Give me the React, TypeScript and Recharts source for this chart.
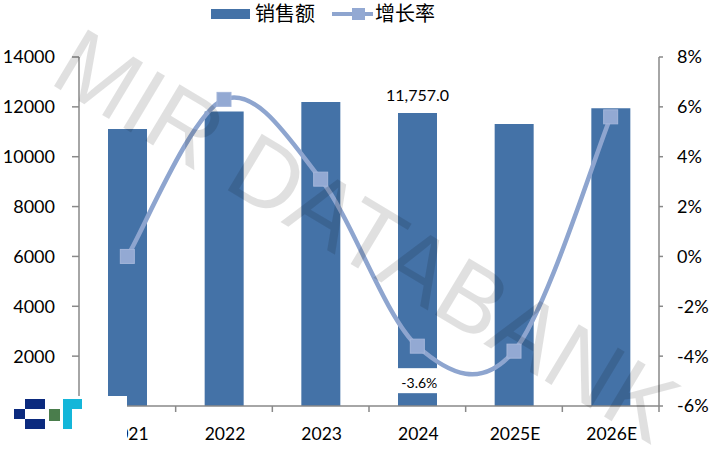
import React from 'react';
import { ComposedChart, Bar, Line, XAxis, YAxis } from 'recharts';

const categories = ['2021', '2022', '2023', '2024', '2025E', '2026E'];
const salesValues = [11110, 11810, 12190, 11757, 11310, 11943];
const growthValues = [0.0, 6.3, 3.1, -3.6, -3.8, 5.6];
const leftTicks = [0, 2000, 4000, 6000, 8000, 10000, 12000, 14000];
const rightTicks = [-6, -4, -2, 0, 2, 4, 6, 8];
const seriesNames = ['销售额', '增长率'];
const watermarkText = 'MIR DATABANK';

const W = 710;
const H = 451;
const BAR = '#4472A7';
const LINE = '#8EA5CF';
const MARK = '#93A9D3';
const AXIS = '#898989';
const FONT = "Lato, 'Open Sans', 'Liberation Sans', sans-serif";
const CJK = "'Noto Sans CJK SC', sans-serif";

const data = categories.map((c, i) => ({ category: c, sales: salesValues[i], growth: growthValues[i] }));

// Excel-like smooth line (Catmull-Rom as cubic Bezier)
function excelSmooth(context: any) {
  let pts: number[][] = [];
  return {
    areaStart() {},
    areaEnd() {},
    lineStart() {
      pts = [];
    },
    point(x: number, y: number) {
      pts.push([+x, +y]);
    },
    lineEnd() {
      const n = pts.length;
      if (!n) return;
      context.moveTo(pts[0][0], pts[0][1]);
      if (n === 1) return;
      for (let i = 0; i < n - 1; i++) {
        const p0 = pts[Math.max(i - 1, 0)];
        const p1 = pts[i];
        const p2 = pts[i + 1];
        const p3 = pts[Math.min(i + 2, n - 1)];
        const c1x = p1[0] + (p2[0] - p0[0]) / 6;
        const c1y = p1[1] + (p2[1] - p0[1]) / 6;
        const c2x = p2[0] - (p3[0] - p1[0]) / 6;
        const c2y = p2[1] - (p3[1] - p1[1]) / 6;
        context.bezierCurveTo(c1x, c1y, c2x, c2y, p2[0], p2[1]);
      }
    },
  };
}

const CatTick = (props: any) => {
  const { x, y, payload, index, visibleTicksCount, width } = props;
  const half = width / (2 * (visibleTicksCount || categories.length));
  const last = index === (visibleTicksCount || categories.length) - 1;
  return (
    <g>
      <line x1={x - half} y1={y} x2={x - half} y2={y + 6} stroke={AXIS} strokeWidth={1.5} />
      {last && <line x1={x + half} y1={y} x2={x + half} y2={y + 6} stroke={AXIS} strokeWidth={1.5} />}
      <text x={x + 1} y={y + 27} textAnchor="middle" dominantBaseline="central" fontSize={17.5} fontFamily={FONT} fill="#000">
        {payload.value}
      </text>
    </g>
  );
};

const renderBarLabel = (p: any) => {
  if (p.index !== 3) return null;
  const v = Number(p.value).toLocaleString('en-US', { minimumFractionDigits: 1, maximumFractionDigits: 1 });
  return (
    <text key="bl" x={p.x + p.width / 2} y={p.y - 18} textAnchor="middle" dominantBaseline="central" fontSize={16} fontFamily={FONT} fill="#000">
      {v}
    </text>
  );
};

const renderLineLabel = (p: any) => {
  if (p.index !== 3) return null;
  return (
    <g key="ll">
      <rect x={p.x - 24} y={p.y + 22} width={46} height={25} fill="#fff" />
      <text x={p.x + 2} y={p.y + 36} textAnchor="middle" dominantBaseline="central" fontSize={14} fontFamily={FONT} fill="#000">
        {`${Number(p.value).toFixed(1)}%`}
      </text>
    </g>
  );
};

const renderDot = (p: any) => (
  <rect key={`d${p.index}`} x={p.cx - 7} y={p.cy - 7} width={14} height={14} fill={MARK} stroke="#A3B5DA" strokeWidth={1} />
);

export default function App() {
  return (
    <div style={{ position: 'absolute', left: 0, top: 0, width: W, height: H, background: '#fff', overflow: 'hidden' }}>
      <ComposedChart width={W} height={H} data={data} margin={{ top: 57, right: 0, bottom: 0, left: 0 }} barSize={39}>
        <XAxis
          dataKey="category"
          height={45}
          tickSize={0}
          tickMargin={0}
          tickLine={false}
          axisLine={{ stroke: AXIS, strokeWidth: 1.5 }}
          tick={<CatTick />}
          interval={0}
        />
        <YAxis
          yAxisId="left"
          orientation="left"
          width={79}
          domain={[0, 14000]}
          ticks={leftTicks}
          tickSize={7}
          tickMargin={17}
          axisLine={{ stroke: AXIS, strokeWidth: 1.5 }}
          tickLine={{ stroke: AXIS, strokeWidth: 1.5 }}
          tick={{ fontSize: 18, fontFamily: FONT, fill: '#000' }}
          interval={0}
        />
        <YAxis
          yAxisId="right"
          orientation="right"
          width={51}
          domain={[-6, 8]}
          ticks={rightTicks}
          tickSize={4}
          tickMargin={14}
          axisLine={{ stroke: AXIS, strokeWidth: 1.5 }}
          tickLine={{ stroke: AXIS, strokeWidth: 1.5 }}
          tick={{ fontSize: 18, fontFamily: FONT, fill: '#000' }}
          tickFormatter={(v: number) => `${v}%`}
          interval={0}
        />
        <Bar yAxisId="left" dataKey="sales" name={seriesNames[0]} fill={BAR} isAnimationActive={false} label={renderBarLabel} />
        <Line
          yAxisId="right"
          dataKey="growth"
          name={seriesNames[1]}
          type={excelSmooth as any}
          stroke={LINE}
          strokeWidth={4.5}
          dot={renderDot}
          activeDot={false}
          isAnimationActive={false}
          label={renderLineLabel}
        />
      </ComposedChart>

      {/* legend */}
      <div style={{ position: 'absolute', left: 211, top: 9, width: 39, height: 10, background: BAR }} />
      <div style={{ position: 'absolute', left: 255, top: 1, fontSize: 20, lineHeight: '24px', fontFamily: CJK, color: '#000', whiteSpace: 'nowrap' }}>{seriesNames[0]}</div>
      <div style={{ position: 'absolute', left: 332, top: 12, width: 41, height: 4, background: LINE }} />
      <div style={{ position: 'absolute', left: 352, top: 8, width: 13, height: 12, background: MARK }} />
      <div style={{ position: 'absolute', left: 375, top: 1, fontSize: 20, lineHeight: '24px', fontFamily: CJK, color: '#000', whiteSpace: 'nowrap' }}>{seriesNames[1]}</div>

      {/* logo */}
      <div style={{ position: 'absolute', left: 0, top: 396, width: 127, height: 55, background: '#fff' }} />
      <div style={{ position: 'absolute', left: 25, top: 399, width: 20, height: 10, background: '#0B2A7E' }} />
      <div style={{ position: 'absolute', left: 14, top: 409, width: 11, height: 10, background: '#0B2A7E' }} />
      <div style={{ position: 'absolute', left: 25, top: 419, width: 20, height: 10, background: '#0B2A7E' }} />
      <div style={{ position: 'absolute', left: 49, top: 409, width: 11, height: 12, background: '#4A7D4C' }} />
      <div style={{ position: 'absolute', left: 63, top: 399, width: 19, height: 10, background: '#14B6D9' }} />
      <div style={{ position: 'absolute', left: 63, top: 399, width: 9, height: 30, background: '#14B6D9' }} />

      {/* watermark */}
      <svg width={W} height={H} style={{ position: 'absolute', left: 0, top: 0, pointerEvents: 'none' }}>
        <text
          x={367}
          y={235}
          transform="rotate(31 367 235)"
          textAnchor="middle"
          dominantBaseline="central"
          fontSize={96}
          fontFamily="'Liberation Sans', sans-serif"
          fill="#000"
          fillOpacity={0.12}
        >
          {watermarkText}
        </text>
      </svg>
    </div>
  );
}
